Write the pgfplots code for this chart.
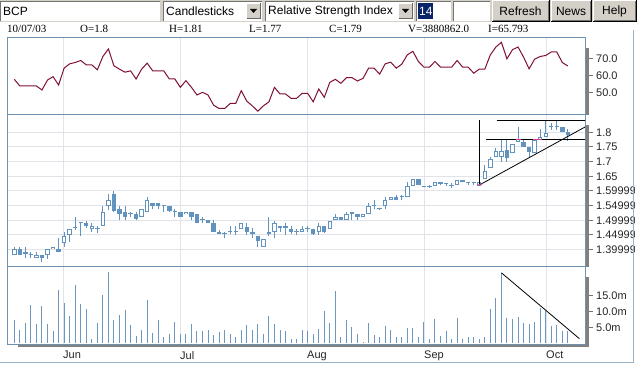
\documentclass[border=0pt]{standalone}
\usepackage{fontspec}
\setmainfont{Liberation Sans}
\newfontfamily\infofont{Liberation Serif}
\usepackage{pgfplots}
\pgfplotsset{compat=1.18}
\usepackage{pgfplotstable}

\definecolor{candle}{RGB}{98,146,190}
\definecolor{volc}{RGB}{108,152,192}
\definecolor{rsic}{RGB}{128,16,56}
\definecolor{border}{RGB}{110,146,178}
\definecolor{gridc}{RGB}{224,228,232}
\definecolor{shadowc}{RGB}{128,128,128}
\definecolor{framec}{RGB}{150,178,200}
\definecolor{btn}{RGB}{212,208,200}
\definecolor{navy}{RGB}{10,36,106}
\definecolor{pinkc}{RGB}{220,60,150}

\pgfplotstableread{
i o h l c
1 1.380 1.410 1.380 1.401
2 1.401 1.410 1.381 1.381
3 1.392 1.410 1.370 1.384
4 1.382 1.392 1.372 1.381
5 1.370 1.392 1.370 1.380
6 1.380 1.380 1.359 1.372
7 1.380 1.401 1.369 1.401
8 1.401 1.410 1.401 1.410
9 1.401 1.438 1.392 1.392
10 1.421 1.459 1.410 1.447
11 1.449 1.469 1.427 1.469
12 1.476 1.510 1.467 1.475
13 1.489 1.489 1.447 1.489
14 1.489 1.497 1.472 1.480
15 1.469 1.489 1.459 1.480
16 1.469 1.480 1.458 1.469
17 1.480 1.550 1.480 1.529
18 1.549 1.588 1.535 1.568
19 1.588 1.599 1.529 1.532
20 1.537 1.550 1.499 1.522
21 1.529 1.550 1.499 1.512
22 1.520 1.529 1.512 1.520
23 1.520 1.529 1.499 1.504
24 1.510 1.537 1.510 1.537
25 1.529 1.578 1.529 1.568
26 1.558 1.558 1.537 1.549
27 1.558 1.558 1.537 1.549
28 1.550 1.550 1.529 1.550
29 1.549 1.549 1.529 1.533
30 1.529 1.537 1.510 1.529
31 1.529 1.529 1.512 1.512
32 1.520 1.529 1.520 1.529
33 1.529 1.529 1.499 1.512
34 1.520 1.520 1.489 1.492
35 1.499 1.510 1.489 1.499
36 1.499 1.499 1.489 1.489
37 1.492 1.499 1.461 1.461
38 1.461 1.467 1.452 1.452
39 1.454 1.461 1.438 1.454
40 1.459 1.480 1.454 1.459
41 1.459 1.480 1.450 1.459
42 1.469 1.489 1.469 1.489
43 1.478 1.489 1.450 1.461
44 1.461 1.472 1.438 1.452
45 1.447 1.447 1.410 1.429
46 1.410 1.436 1.410 1.436
47 1.461 1.510 1.447 1.452
48 1.459 1.497 1.438 1.489
49 1.480 1.480 1.459 1.472
50 1.480 1.489 1.450 1.472
51 1.469 1.480 1.454 1.461
52 1.461 1.469 1.450 1.461
53 1.459 1.480 1.459 1.469
54 1.469 1.480 1.459 1.469
55 1.469 1.469 1.450 1.452
56 1.459 1.489 1.450 1.480
57 1.480 1.480 1.458 1.461
58 1.469 1.497 1.469 1.497
59 1.499 1.520 1.499 1.510
60 1.510 1.510 1.501 1.501
61 1.499 1.529 1.499 1.520
62 1.529 1.529 1.499 1.520
63 1.520 1.520 1.499 1.512
64 1.510 1.520 1.510 1.520
65 1.520 1.558 1.520 1.549
66 1.549 1.568 1.537 1.549
67 1.537 1.540 1.535 1.537
68 1.549 1.578 1.537 1.568
69 1.568 1.578 1.568 1.578
70 1.578 1.586 1.568 1.568
71 1.578 1.586 1.568 1.578
72 1.578 1.632 1.578 1.618
73 1.618 1.640 1.618 1.640
74 1.640 1.640 1.620 1.620
75 1.618 1.618 1.612 1.612
76 1.618 1.620 1.610 1.612
77 1.618 1.632 1.618 1.629
78 1.629 1.629 1.620 1.623
79 1.623 1.626 1.615 1.623
80 1.618 1.626 1.611 1.618
81 1.620 1.637 1.620 1.637
82 1.637 1.637 1.629 1.629
83 1.626 1.632 1.620 1.626
84 1.626 1.632 1.620 1.626
85 1.618 1.629 1.618 1.629
86 1.640 1.689 1.640 1.668
87 1.677 1.717 1.677 1.708
88 1.717 1.745 1.717 1.736
89 1.717 1.774 1.700 1.736
90 1.740 1.774 1.698 1.711
91 1.728 1.760 1.728 1.760
92 1.768 1.817 1.768 1.777
93 1.766 1.777 1.751 1.751
94 1.749 1.749 1.717 1.732
95 1.728 1.777 1.728 1.774
96 1.777 1.811 1.777 1.785
97 1.785 1.842 1.785 1.797
98 1.817 1.831 1.808 1.817
99 1.817 1.839 1.808 1.817
100 1.817 1.817 1.800 1.800
101 1.800 1.810 1.770 1.790
}\prices

\pgfplotstableread{
i r
1 57.8
2 53.8
3 53.8
4 53.8
5 53.8
6 51.4
7 57.4
8 59.4
9 54.4
10 64.5
11 67.1
12 67.9
13 69.1
14 66.5
15 66.5
16 63.5
17 71.5
18 76.0
19 65.9
20 63.9
21 62.1
22 62.9
23 58.0
24 63.9
25 67.5
26 62.9
27 62.9
28 62.9
29 58.0
30 58.0
31 53.0
32 57.0
33 53.0
34 48.4
35 50.0
36 48.4
37 42.3
38 40.3
39 40.3
40 43.3
41 43.3
42 51.0
43 44.7
44 41.9
45 38.7
46 41.9
47 44.3
48 53.0
49 49.0
50 49.0
51 46.4
52 46.4
53 49.4
54 49.4
55 44.3
56 52.0
57 47.0
58 56.0
59 57.8
60 55.4
61 58.8
62 58.8
63 56.8
64 58.4
65 64.5
66 64.5
67 60.9
68 67.1
69 68.1
70 64.5
71 66.9
72 72.5
73 74.6
74 68.5
75 65.1
76 65.1
77 68.5
78 65.1
79 65.1
80 65.1
81 69.1
82 65.1
83 65.1
84 61.5
85 63.9
86 63.9
87 72.5
88 77.2
89 80.0
90 70.1
91 75.6
92 77.2
93 71.1
94 64.1
95 69.9
96 71.5
97 72.1
98 74.2
99 74.2
100 67.9
101 65.8
}\rsidata

\pgfplotstableread{
i v
1 7.3
2 4.1
3 6.5
4 12.3
5 6.2
6 11.7
7 6.2
8 3.8
9 17.0
10 12.8
11 8.8
12 18.6
13 12.5
14 10.9
15 1.5
16 6.5
17 15.4
18 22.7
19 7.3
20 9.0
21 10.7
22 5.7
23 2.5
24 4.1
25 13.6
26 3.4
27 7.3
28 2.2
29 3.1
30 6.9
31 3.1
32 3.1
33 6.2
34 3.8
35 3.8
36 4.1
37 2.7
38 3.6
39 4.1
40 3.1
41 2.2
42 4.4
43 5.9
44 4.1
45 6.2
46 3.1
47 8.8
48 6.2
49 4.4
50 3.8
51 1.5
52 1.3
53 4.1
54 3.9
55 3.1
56 4.6
57 10.4
58 6.5
59 16.5
60 2.0
61 7.3
62 5.2
63 3.1
64 0.6
65 6.5
66 2.8
67 2.0
68 5.4
69 4.1
70 2.0
71 2.0
72 4.9
73 4.9
74 2.0
75 6.9
76 1.3
77 7.8
78 2.5
79 3.8
80 1.3
81 8.1
82 1.3
83 2.2
84 2.2
85 1.3
86 2.0
87 10.9
88 14.4
89 22.3
90 8.1
91 7.6
92 8.5
93 6.4
94 6.2
95 6.9
96 11.1
97 10.4
98 5.4
99 5.9
100 3.8
101 3.88
}\volumes

\pgfplotsset{
  panel/.style={
    scale only axis, width=577pt,
    xmin=-0.14, xmax=104.1,
    axis line style={border, line width=1pt},
    xtick={9.80,30.94,53.88,75.02,97.06},
    xmajorgrids,
    major grid style={gridc, line width=1pt},
    xticklabels={},
    xtick style={draw=none},
    ytick pos=right, yticklabel pos=right,
    tick align=outside, major tick length=4pt,
    ytick style={color=black!55, line width=1pt, xshift=4pt},
    yticklabel style={anchor=west, inner sep=0pt, xshift=7pt},
    tick label style={font=\fontsize{11}{12}\selectfont, text=black!85},
    clip=true,
  },
  candlebar/.style 2 args={draw=none, mark=none, forget plot,
    error bars/.cd, y dir=plus, y explicit, error mark=none,
    error bar style={line width=#1, #2}},
}

\begin{document}
\begin{tikzpicture}
\path[use as bounding box] (0,0) rectangle (637pt,364pt);
\fill[white] (0,0) rectangle (637pt,364pt);

% drop shadows of the panels (pixel coordinates)
\begin{scope}[x=1pt,y=-1pt,shift={(0,364pt)}]
  \fill[shadowc] (585.5,48) rectangle (588.5,115);
  \fill[shadowc] (585.5,125) rectangle (588.5,267);
  \fill[shadowc] (585.5,277) rectangle (588.5,347.5);
  \fill[shadowc] (18,344) rectangle (588.5,347.5);
\end{scope}

\begin{scope}
\clip (0,0) rectangle (634pt,364pt);

% RSI panel
\begin{axis}[panel, at={(8pt,249pt)}, anchor=south west, height=77pt,
  ymin=36.4, ymax=82.6, ytick={50,60,70}, yticklabels={50.0,60.0,70.0}]
  \addplot[rsic, line width=1pt] table[x=i,y=r] {\rsidata};
\end{axis}

% price panel
\begin{axis}[panel, at={(8pt,97pt)}, anchor=south west, height=152pt,
  ymin=1.3403, ymax=1.859,
  ytick={1.3999,1.4499,1.4999,1.5499,1.5999,1.65,1.7,1.75,1.8},
  yticklabels={1.39999,1.44999,1.49999,1.54999,1.59999,1.65,1.7,1.75,1.8},
  ymajorgrids]
  % wicks
  \addplot[candlebar={1pt}{candle}]
    table[x=i, y=l, y error expr={\thisrow{h}-\thisrow{l}}] {\prices};
  % bodies
  \addplot[candlebar={4.4pt}{candle}]
    table[x=i, y expr={min(\thisrow{o},\thisrow{c})},
      y error expr={max(abs(\thisrow{c}-\thisrow{o}),0.0034)}] {\prices};
  % hollow interiors of rising candles
  \addplot[restrict expr to domain={\thisrow{c}-\thisrow{o}}{0.006:1},
    candlebar={2.4pt}{white}]
    table[x=i, y expr={\thisrow{o}+0.0034},
      y error expr={\thisrow{c}-\thisrow{o}-0.0068}] {\prices};
  % drawn trend lines
  \addplot[black, line width=0.8pt] coordinates {(85.0,1.620) (85.0,1.842)};
  \addplot[black, line width=0.8pt] coordinates {(88.15,1.842) (104.3,1.842)};
  \addplot[black, line width=0.8pt] coordinates {(86.2,1.777) (104.3,1.777)};
  \addplot[black, line width=0.8pt] coordinates {(85.0,1.620) (104.2,1.819)};
  \addplot[pinkc, line width=0.8pt] coordinates {(91.6,1.777) (92.5,1.777)};
  \addplot[pinkc, line width=0.8pt] coordinates {(94.7,1.777) (96.3,1.777)};
  \addplot[pinkc, line width=0.8pt] coordinates {(84.6,1.620) (85.6,1.624)};
\end{axis}

% volume panel
\begin{axis}[panel, at={(8pt,20pt)}, anchor=south west, height=77pt,
  ymin=-0.16, ymax=24.13, ytick={5,10,15}, yticklabels={5.0m,10.0m,15.0m},
  xticklabels={Jun,Jul,Aug,Sep,Oct}, xtick pos=bottom,
  xtick style={color=black!60, line width=1pt},
  xticklabel style={anchor=north west, inner sep=0pt, yshift=-3pt}]
  \addplot[ycomb, volc, line width=1pt] table[x=i,y=v] {\volumes};
  \addplot[black, line width=0.8pt] coordinates {(89,22.3) (103.1,1.5)};
\end{axis}
\end{scope}

% toolbar, info line and frame (pixel coordinates)
\begin{scope}[x=1pt,y=-1pt,shift={(0,364pt)}, font=\fontsize{12}{14}\selectfont]
  \draw[framec, line width=1pt] (0,362.5) -- (633.5,362.5) -- (633.5,30);
  \fill[btn] (0,0) rectangle (637,22);
  % symbol box
  \fill[white] (0,1) rectangle (160,21);
  \draw[black!55] (0.5,21) -- (0.5,1.5) -- (160,1.5);
  \node[anchor=west, inner sep=0pt] at (3,11) {BCP};
  % chart type combo
  \fill[white] (163,1) rectangle (262,21);
  \draw[black!55] (163.5,21) -- (163.5,1.5) -- (262,1.5);
  \fill[btn] (246,3) rectangle (261,19);
  \draw[white] (246.5,19) -- (246.5,3.5) -- (261,3.5);
  \draw[black!60] (246.5,18.5) -- (260.5,18.5) -- (260.5,3);
  \fill[black] (250,9) -- (257,9) -- (253.5,13) -- cycle;
  \node[anchor=west, inner sep=0pt] at (166,11) {Candlesticks};
  % indicator combo
  \fill[white] (265,1) rectangle (414,21);
  \draw[black!55] (265.5,21) -- (265.5,1.5) -- (414,1.5);
  \fill[btn] (398,3) rectangle (413,19);
  \draw[white] (398.5,19) -- (398.5,3.5) -- (413,3.5);
  \draw[black!60] (398.5,18.5) -- (412.5,18.5) -- (412.5,3);
  \fill[black] (402,9) -- (409,9) -- (405.5,13) -- cycle;
  \node[anchor=west, inner sep=0pt] at (268,11) {Relative Strength Index};
  % period field
  \fill[white] (416,1) rectangle (451,21);
  \draw[black!55] (416.5,21) -- (416.5,1.5) -- (451,1.5);
  \fill[navy] (418,3) rectangle (433,19);
  \node[anchor=west, inner sep=0pt, text=white] at (419,11) {14};
  % empty field
  \fill[white] (453,1) rectangle (490,21);
  \draw[black!55] (453.5,21) -- (453.5,1.5) -- (490,1.5);
  % buttons
  \foreach \a/\b/\t in {492/549/Refresh, 551/591/News, 593/636/Help}{
    \fill[btn] (\a,0) rectangle (\b,21);
    \draw[white] (\a+0.5,21) -- (\a+0.5,0.5) -- (\b,0.5);
    \draw[black!55] (\a+1,20) -- (\b-1,20) -- (\b-1,1);
    \draw[black] (\a,21) -- (\b,21) -- (\b,0);
    \node[inner sep=0pt] at ({(\a+\b)/2},11) {\t};
  }
  % info line
  \begin{scope}[font=\infofont\fontsize{11}{13}\selectfont]
    \node[anchor=base west, inner sep=0pt] at (7,33) {10/07/03};
    \node[anchor=base west, inner sep=0pt] at (80,33) {O=1.8};
    \node[anchor=base west, inner sep=0pt] at (169,33) {H=1.81};
    \node[anchor=base west, inner sep=0pt] at (249,33) {L=1.77};
    \node[anchor=base west, inner sep=0pt] at (329,33) {C=1.79};
    \node[anchor=base west, inner sep=0pt] at (408,33) {V=3880862.0};
    \node[anchor=base west, inner sep=0pt] at (488,33) {I=65.793};
  \end{scope}
\end{scope}
\end{tikzpicture}
\end{document}
